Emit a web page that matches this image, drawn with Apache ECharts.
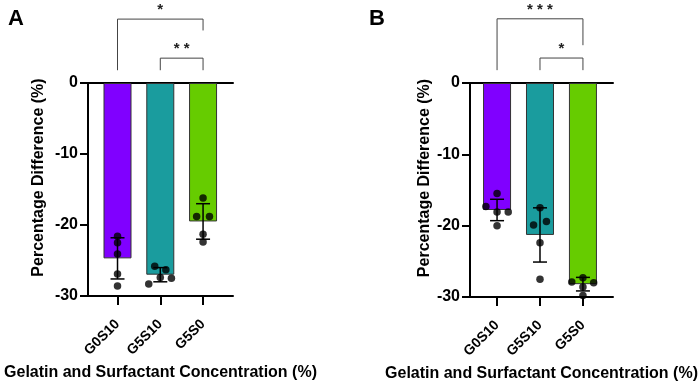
<!DOCTYPE html>
<html>
<head>
<meta charset="utf-8">
<script src="https://cdn.jsdelivr.net/npm/echarts@6/dist/echarts.min.js"></script>
<style>
  html, body { margin: 0; padding: 0; background: #fff; }
  #chart { width: 699px; height: 383px; }
</style>
</head>
<body>
<div id="chart"></div>
<script>
// categories and colours
const categories = ['G0S10', 'G5S10', 'G5S0']
const barColors = ['#8000ff', '#1a9c9e', '#66cc00']

// panel A: mean, SD, individual points (with horizontal jitter in category units)
const meanA = [-24.7, -27.0, -19.5]
const sdA = [2.9, 1.0, 2.5]
const dotsA = [
  [-21.6, -22.5, -24.1, -26.9, -28.6],
  [-28.3, -25.8, -27.4, -26.3, -27.5],
  [-16.2, -18.8, -18.8, -21.3, -22.4],
]
const jitterA = [
  [0, 0, 0, 0, 0],
  [-0.27, -0.13, 0, 0.13, 0.26],
  [0, -0.15, 0.15, 0, 0],
]

// panel B
const meanB = [-17.8, -21.3, -28.2]
const sdB = [1.5, 3.8, 0.95]
const dotsB = [
  [-15.5, -17.3, -18.1, -18.1, -20.0],
  [-17.5, -19.9, -19.4, -22.4, -27.5],
  [-27.9, -27.3, -28.0, -28.6, -29.8],
]
const jitterB = [
  [0, -0.26, 0, 0.26, 0],
  [0, -0.15, 0.15, 0, 0],
  [-0.26, 0, 0.25, 0, 0],
]

// significance brackets: [from, to, top, left foot, right foot, label] (y in axis units above 0)
const bracketsA = [
  [0, 2, 9.0, 1.8, 7.4, '*'],
  [1, 2, 3.5, 1.8, 1.8, '* *'],
]
const bracketsB = [
  [0, 2, 9.0, 1.8, 5.3, '* * *'],
  [1, 2, 3.5, 1.8, 1.8, '*'],
]

const FONT = 'Liberation Sans, Arial, sans-serif'

function barSeries(means, idx) {
  return {
    type: 'bar',
    xAxisIndex: idx,
    yAxisIndex: idx,
    barWidth: 28,
    data: means.map((v, i) => ({
      value: [i, v],
      itemStyle: { color: barColors[i], borderColor: '#333', borderWidth: 1 },
    })),
    z: 2,
  }
}

function errorSeries(means, sds, idx) {
  return {
    type: 'custom',
    xAxisIndex: idx,
    yAxisIndex: idx,
    clip: false,
    z: 4,
    data: means.map((v, i) => [i, v + sds[i], v - sds[i]]),
    renderItem: (params, api) => {
      const top = api.coord([api.value(0), api.value(1)])
      const bot = api.coord([api.value(0), api.value(2)])
      const half = 7
      const style = { stroke: '#000', lineWidth: 1.5 }
      return {
        type: 'group',
        children: [
          { type: 'line', shape: { x1: top[0], y1: top[1], x2: bot[0], y2: bot[1] }, style },
          { type: 'line', shape: { x1: top[0] - half, y1: top[1], x2: top[0] + half, y2: top[1] }, style },
          { type: 'line', shape: { x1: bot[0] - half, y1: bot[1], x2: bot[0] + half, y2: bot[1] }, style },
        ],
      }
    },
  }
}

function dotSeries(dots, jitter, idx) {
  const data = []
  dots.forEach((vals, i) => vals.forEach((v, j) => data.push([i + jitter[i][j], v])))
  return {
    type: 'scatter',
    xAxisIndex: idx,
    yAxisIndex: idx,
    clip: false,
    symbolSize: 7.5,
    itemStyle: { color: '#000' },
    data,
    z: 5,
  }
}

function bracketSeries(brackets, idx) {
  return {
    type: 'custom',
    xAxisIndex: idx,
    yAxisIndex: idx,
    clip: false,
    silent: true,
    z: 3,
    data: brackets,
    renderItem: (params, api) => {
      const b = brackets[params.dataIndex]
      const l = api.coord([b[0], b[2]])
      const r = api.coord([b[1], b[2]])
      const lf = api.coord([b[0], b[3]])
      const rf = api.coord([b[1], b[4]])
      const style = { stroke: '#444', lineWidth: 1 }
      return {
        type: 'group',
        children: [
          { type: 'polyline', shape: { points: [[lf[0], lf[1]], [l[0], l[1]], [r[0], r[1]], [rf[0], rf[1]]] }, style: { ...style, fill: null } },
          {
            type: 'text',
            style: {
              text: b[5], x: (l[0] + r[0]) / 2, y: l[1] - 9,
              align: 'center', verticalAlign: 'middle',
              font: 'bold 15px ' + FONT, fill: '#222',
            },
          },
        ],
      }
    },
  }
}

function bottomAxis(idx, min) {
  return {
    type: 'value',
    gridIndex: idx,
    position: 'bottom',
    min, max: 2.7,
    splitLine: { show: false },
    axisLine: { onZero: false, lineStyle: { color: '#000', width: 2 } },
    axisTick: { show: true, customValues: [0, 1, 2], length: 9, lineStyle: { color: '#000', width: 2 } },
    axisLabel: {
      customValues: [0, 1, 2],
      formatter: (v) => categories[Math.round(v)],
      rotate: 45, margin: 26,
      color: '#000', fontFamily: FONT, fontWeight: 'bold', fontSize: 14,
    },
    name: 'Gelatin and Surfactant Concentration (%)',
    nameLocation: 'middle',
    nameGap: 67,
    nameTextStyle: { color: '#000', fontFamily: FONT, fontWeight: 'bold', fontSize: 16 },
  }
}

function topAxis(idx, min) {
  return {
    type: 'value',
    gridIndex: idx,
    position: 'top',
    min, max: 2.7,
    splitLine: { show: false },
    axisLine: { onZero: false, lineStyle: { color: '#000', width: 2 } },
    axisTick: { show: false },
    axisLabel: { show: false },
  }
}

function leftAxis(idx, gap) {
  return {
    type: 'value',
    gridIndex: idx,
    min: -30, max: 0, interval: 10,
    splitLine: { show: false },
    axisLine: { show: true, onZero: false, lineStyle: { color: '#000', width: 2 } },
    axisTick: { show: true, length: 8, lineStyle: { color: '#000', width: 2 } },
    axisLabel: { color: '#000', fontFamily: FONT, fontWeight: 'bold', fontSize: 16, margin: 10 },
    name: 'Percentage Difference (%)',
    nameLocation: 'middle',
    nameGap: gap,
    nameTextStyle: {
      color: '#000', fontFamily: FONT, fontWeight: 'bold', fontSize: 16,
      padding: [0, 0, 0, 24],
    },
  }
}

const chart = echarts.init(document.getElementById('chart'))
chart.setOption({
  backgroundColor: '#fff',
  animation: false,
  title: [
    { text: 'A', left: 3, top: 3, textStyle: { fontFamily: FONT, fontWeight: 'bold', fontSize: 22, color: '#000' } },
    { text: 'B', left: 364, top: 3, textStyle: { fontFamily: FONT, fontWeight: 'bold', fontSize: 22, color: '#000' } },
  ],
  grid: [
    { left: 88, top: 83, width: 145, height: 213, outerBoundsMode: 'none' },
    { left: 470, top: 83, width: 143, height: 214, outerBoundsMode: 'none' },
  ],
  xAxis: [bottomAxis(0, -0.69), bottomAxis(1, -0.63), topAxis(0, -0.69), topAxis(1, -0.63)],
  yAxis: [leftAxis(0, 41), leftAxis(1, 37)],
  series: [
    barSeries(meanA, 0), errorSeries(meanA, sdA, 0), dotSeries(dotsA, jitterA, 0), bracketSeries(bracketsA, 0),
    barSeries(meanB, 1), errorSeries(meanB, sdB, 1), dotSeries(dotsB, jitterB, 1), bracketSeries(bracketsB, 1),
  ],
})
</script>
</body>
</html>
